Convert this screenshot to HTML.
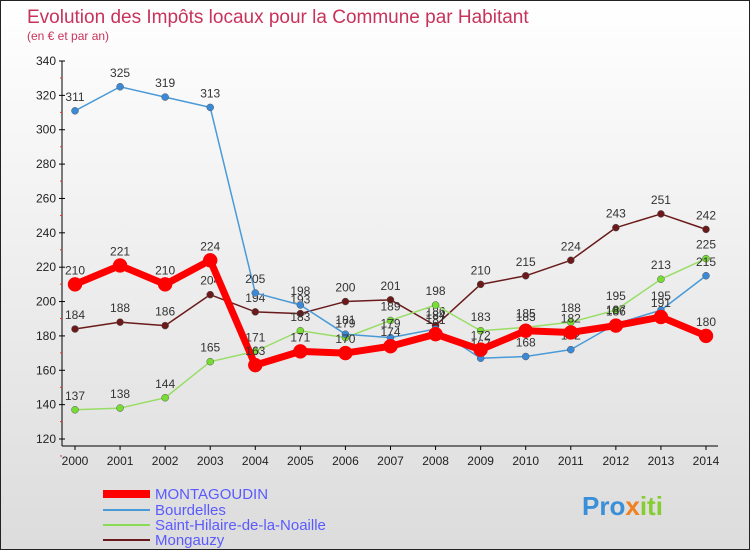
<!DOCTYPE html>
<html><head><meta charset="utf-8"><style>
body{margin:0;width:750px;height:550px;overflow:hidden;font-family:"Liberation Sans",sans-serif}
#c{position:absolute;left:0;top:0;width:748px;height:548px;border:1px solid #222;background:linear-gradient(#fff,#dcdcdc)}
</style></head><body>
<div id="c">
<svg width="750" height="550" id="svg" style="position:absolute;left:-1px;top:-1px">
<text x="27" y="23" font-size="19" fill="#c8335a">Evolution des Impôts locaux pour la Commune par Habitant</text>
<text x="27" y="40" font-size="12" fill="#c8335a">(en € et par an)</text>
<g id="axes"></g><g id="series"></g>
<g>
<line x1="103" y1="494" x2="150" y2="494" stroke="#f00" stroke-width="8"/>
<text x="155" y="499" font-size="15" fill="#5a5aff">MONTAGOUDIN</text>
<line x1="103" y1="510" x2="150" y2="510" stroke="#4a9ad8" stroke-width="2"/>
<text x="155" y="515" font-size="15" fill="#5a5aff">Bourdelles</text>
<line x1="103" y1="525" x2="150" y2="525" stroke="#88dd55" stroke-width="2"/>
<text x="155" y="530" font-size="15" fill="#5a5aff">Saint-Hilaire-de-la-Noaille</text>
<line x1="103" y1="540" x2="150" y2="540" stroke="#6a1a1a" stroke-width="2"/>
<text x="155" y="545" font-size="15" fill="#5a5aff">Mongauzy</text>
</g>
<text x="582" y="515" font-size="26" font-weight="bold" fill="#3a8fd8">Pro<tspan fill="#f08020">x</tspan><tspan fill="#88cc33">iti</tspan></text>
</svg></div>
<script>
const years=[2000,2001,2002,2003,2004,2005,2006,2007,2008,2009,2010,2011,2012,2013,2014];
const montagoudin=[210,221,210,224,163,171,170,174,181,172,183,182,186,191,180];
const bourdelles=[311,325,319,313,205,198,181,179,184,167,168,172,187,195,215];
const sainthilaire=[137,138,144,165,171,183,179,189,198,183,185,188,195,213,225];
const mongauzy=[184,188,186,204,194,193,200,201,186,210,215,224,243,251,242];
const yTicks=[120,140,160,180,200,220,240,260,280,300,320,340];
const NS="http://www.w3.org/2000/svg";
const xs=y=>75+(y-2000)*(706-75)/14;
const ys=v=>439-(v-120)*(378/220);
function mk(t,a,p){const e=document.createElementNS(NS,t);for(const k in a)e.setAttribute(k,a[k]);p.appendChild(e);return e;}
const ax=document.getElementById('axes');
mk('line',{x1:62,y1:61,x2:62,y2:446,stroke:'#000'},ax);
mk('line',{x1:62,y1:446,x2:718,y2:446,stroke:'#000'},ax);
yTicks.forEach(t=>{const y=ys(t);
 mk('line',{x1:59,y1:y,x2:65,y2:y,stroke:'#000'},ax);
 const tx=mk('text',{x:56,y:y+4,'font-size':12,'text-anchor':'end',fill:'#222'},ax);tx.textContent=t;
 
 
 mk('line',{x1:60,y1:y+17,x2:62,y2:y+17,stroke:'#e33'},ax);});
years.forEach(yr=>{const x=xs(yr);
 mk('line',{x1:x,y1:446,x2:x,y2:450,stroke:'#000'},ax);
 const tx=mk('text',{x:x,y:465,'font-size':12,'text-anchor':'middle',fill:'#222'},ax);tx.textContent=yr;
 
 });
const sg=document.getElementById('series');
function draw(data,name,color,w,r,fill){
 const g=mk('g',{},sg);
 
 
 mk('polyline',{points:data.map((v,i)=>xs(years[i])+','+ys(v)).join(' '),fill:'none',stroke:color,'stroke-width':w,'stroke-linejoin':'round'},g);
 data.forEach((v,i)=>{const c=mk('circle',{cx:xs(years[i]),cy:ys(v),r:r,fill:fill,stroke:color==='#f00'?'#f00':'#555','stroke-width':0.5},g);
  
  
  const t=mk('text',{x:xs(years[i]),y:ys(v)-10,'font-size':12,'text-anchor':'middle',fill:'#333'},g);t.textContent=v;
  
  });
}
draw(mongauzy,'mongauzy','#6a1a1a',1.5,3.5,'#6a1a1a');
draw(sainthilaire,'saint-hilaire','#99dd66',1.5,3.5,'#77dd33');
draw(bourdelles,'bourdelles','#4a9ad8',1.5,3.5,'#3a8ad8');
draw(montagoudin,'montagoudin','#f00',7,7,'#f00');
</script></body></html>
